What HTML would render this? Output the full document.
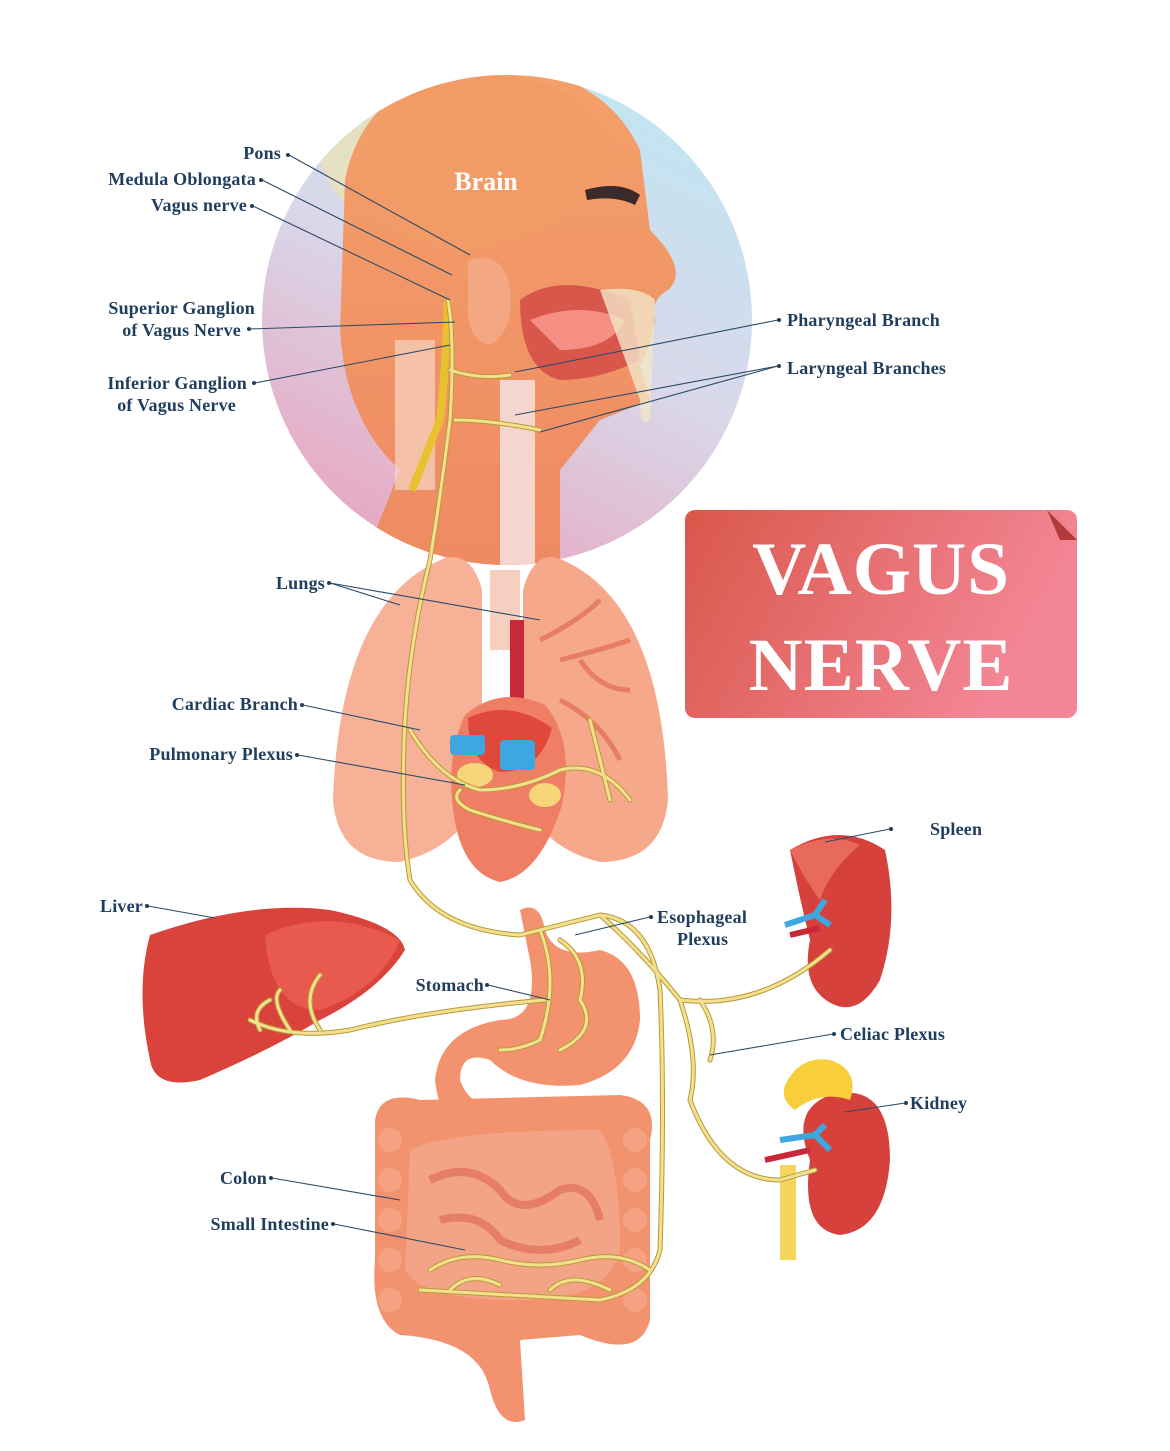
<!DOCTYPE html>
<html><head><meta charset="utf-8"><style>
html,body{margin:0;padding:0;background:#fff;}
svg{display:block}
.l{font-family:"Liberation Serif",serif;font-weight:bold;font-size:18px;letter-spacing:0.2px;fill:#1f3d5c}
.ln{stroke:#2a4a68;stroke-width:1.1;fill:none}
.nv{stroke:#b89a3a;stroke-width:5;fill:none;stroke-linecap:round;stroke-linejoin:round}
.nv2{stroke:#f3e08e;stroke-width:3;fill:none;stroke-linecap:round;stroke-linejoin:round}
</style></head><body>
<svg width="1170" height="1451" viewBox="0 0 1170 1451" xmlns="http://www.w3.org/2000/svg">
<defs>
<linearGradient id="cg" x1="0.8" y1="0" x2="0.3" y2="1">
<stop offset="0" stop-color="#bfe6f2"/><stop offset="0.5" stop-color="#d9d8ea"/><stop offset="1" stop-color="#e8a6c0"/></linearGradient>
<linearGradient id="tg" x1="0" y1="0" x2="1" y2="0.3">
<stop offset="0" stop-color="#d9574a"/><stop offset="1" stop-color="#f48797"/></linearGradient>
<linearGradient id="hg" x1="0" y1="0" x2="0" y2="1">
<stop offset="0" stop-color="#f4a06a"/><stop offset="1" stop-color="#ee8a62"/></linearGradient>
<clipPath id="cc"><circle cx="507" cy="320" r="245"/></clipPath>
</defs>
<rect width="1170" height="1451" fill="#fff"/>
<circle cx="507" cy="320" r="245" fill="url(#cg)"/>
<g clip-path="url(#cc)">
<path d="M320 60 Q420 30 520 70 L560 130 Q500 200 420 220 Q340 230 320 160Z" fill="#f6e3a0" opacity="0.55"/>
<path d="M345 180 Q365 80 480 65 Q600 65 640 150 L650 230 Q690 270 668 290 Q650 300 655 320 Q650 350 640 365 L650 400 L600 420 L560 470 L560 570 L360 570 L400 470 Q345 420 340 330 Z" fill="url(#hg)"/>
<path d="M355 180 Q370 85 480 75 Q590 75 620 160 Q560 240 470 250 Q385 250 355 180Z" fill="#f29b66"/>
<path d="M520 300 Q560 270 630 300 L640 360 Q600 380 560 380 Q520 370 520 300Z" fill="#d9574a"/>
<path d="M530 320 Q580 300 625 320 Q610 350 560 350 Z" fill="#f58f84"/>
<path d="M600 290 Q640 285 655 300 L650 420 Q640 430 640 400 Z" fill="#f2e6c8" opacity="0.8"/>
<path d="M585 190 Q620 180 640 195 L635 205 Q615 195 587 200Z" fill="#3a2a2a"/>
<path d="M468 260 Q505 250 510 290 Q515 330 490 345 Q465 340 468 300Z" fill="#f4a783"/>
<rect x="500" y="380" width="35" height="190" fill="#f5d6cf"/>
<rect x="395" y="340" width="40" height="150" fill="#f6d5c4" opacity="0.7"/>
<path d="M448 300 Q445 380 440 420 Q420 470 412 490" stroke="#e8c030" stroke-width="8" fill="none"/>
</g>
<text x="486" y="190" font-family="Liberation Serif,serif" font-weight="bold" font-size="26" fill="#fff" text-anchor="middle">Brain</text>
<rect x="685" y="510" width="392" height="208" rx="10" fill="url(#tg)"/>
<path d="M1047 510 L1077 540 L1060 540 Z" fill="#b33a3a"/>
<text x="881" y="594" font-family="Liberation Serif,serif" font-weight="bold" font-size="75" letter-spacing="1" fill="#fff" text-anchor="middle">VAGUS</text>
<text x="881" y="690" font-family="Liberation Serif,serif" font-weight="bold" font-size="75" letter-spacing="1" fill="#fff" text-anchor="middle">NERVE</text>
<!-- lungs -->
<rect x="490" y="570" width="30" height="80" fill="#f7cfc0"/>
<path d="M445 558 Q340 600 333 800 Q338 862 400 862 Q470 845 482 780 L482 590 Q472 552 445 558Z" fill="#f6b196"/>
<path d="M558 558 Q662 600 668 800 Q662 862 600 862 Q530 845 523 780 L523 590 Q533 552 558 558Z" fill="#f6a98a"/>
<path d="M540 640 Q580 620 600 600 M560 660 Q600 650 630 640 M560 700 Q600 720 620 760 M580 660 Q600 690 630 690" stroke="#e57e64" stroke-width="5" fill="none"/>
<!-- heart -->
<rect x="510" y="620" width="14" height="90" fill="#c8283a"/>
<path d="M465 715 Q500 685 545 705 Q575 740 562 805 Q540 875 500 882 Q458 872 452 800 Q448 750 465 715Z" fill="#ef7e64"/>
<path d="M468 718 Q510 698 552 728 Q540 772 500 772 Q468 762 468 718Z" fill="#e0483c"/>
<rect x="450" y="735" width="35" height="20" rx="4" fill="#3ea7e0"/>
<rect x="500" y="740" width="35" height="30" rx="4" fill="#3ea7e0"/>
<ellipse cx="475" cy="775" rx="18" ry="12" fill="#f7d67a"/>
<ellipse cx="545" cy="795" rx="16" ry="12" fill="#f7d67a"/>
<!-- liver -->
<path d="M150 935 Q250 900 330 910 Q400 925 405 950 Q380 990 320 1020 Q270 1050 200 1080 Q155 1090 150 1060 Q135 990 150 935Z" fill="#d9433c"/>
<path d="M265 935 Q330 905 400 940 Q380 990 320 1010 Q270 1010 265 935Z" fill="#e85a4d"/>
<!-- spleen -->
<path d="M790 850 Q840 820 885 850 Q900 920 880 980 Q860 1015 835 1005 Q800 990 810 940 Q800 900 790 850Z" fill="#d6423b"/>
<path d="M790 850 Q830 830 860 845 Q830 870 820 900 Q805 880 790 850Z" fill="#e86a5c"/>
<path d="M785 925 L815 915 L825 900 M815 915 L830 925" stroke="#3ea7e0" stroke-width="6" fill="none"/>
<path d="M790 935 L820 928" stroke="#c8283a" stroke-width="6"/>
<!-- kidney -->
<rect x="780" y="1165" width="16" height="95" fill="#f6d65a"/>
<path d="M830 1095 Q890 1080 890 1160 Q885 1230 840 1235 Q800 1230 810 1160 Q790 1110 830 1095Z" fill="#d6423b"/>
<path d="M785 1085 Q800 1055 830 1060 Q860 1070 850 1100 Q820 1090 795 1110 Q780 1100 785 1085Z" fill="#f8cf3b"/>
<path d="M780 1140 L815 1135 L825 1125 M815 1135 L830 1150" stroke="#3ea7e0" stroke-width="6" fill="none"/>
<path d="M765 1160 L810 1150" stroke="#c8283a" stroke-width="6"/>
<!-- stomach -->
<path d="M520 910 Q540 900 545 930 Q555 960 600 950 Q640 960 640 1020 Q635 1070 580 1085 Q520 1090 490 1060 Q460 1050 460 1080 Q470 1110 510 1110 L560 1100 Q560 1130 510 1140 Q440 1140 435 1080 Q440 1030 500 1020 Q540 1020 530 960 Z" fill="#f2926e"/>
<!-- colon & intestine -->
<path d="M375 1120 Q380 1090 420 1100 L620 1095 Q660 1100 650 1140 L650 1320 Q640 1360 580 1335 L520 1340 L525 1420 Q500 1430 490 1390 Q480 1340 400 1335 Q370 1320 375 1260 Z" fill="#f2926e"/>
<g fill="#f5a283">
<circle cx="390" cy="1140" r="12"/><circle cx="390" cy="1180" r="12"/><circle cx="390" cy="1220" r="12"/><circle cx="390" cy="1260" r="12"/><circle cx="390" cy="1300" r="12"/>
<circle cx="635" cy="1140" r="12"/><circle cx="635" cy="1180" r="12"/><circle cx="635" cy="1220" r="12"/><circle cx="635" cy="1260" r="12"/><circle cx="635" cy="1300" r="12"/>
</g>
<path d="M410 1150 Q450 1130 600 1130 Q620 1160 620 1250 Q610 1300 520 1300 Q420 1300 405 1270 Z" fill="#f4a486"/>
<path d="M430 1180 Q470 1160 500 1190 Q520 1220 560 1190 Q590 1180 600 1220 M440 1220 Q480 1210 500 1240 Q540 1260 580 1240" stroke="#e57e64" stroke-width="8" fill="none"/>
<!-- nerves -->
<path d="M448 300 Q455 340 450 420 Q440 500 430 560 Q410 640 405 720 Q400 820 410 880 Q440 930 520 935 Q560 925 600 915 Q650 920 660 990 Q665 1100 660 1250 Q650 1290 600 1300 L420 1290 M450 370 Q480 380 510 375 M455 420 Q490 420 540 430 M410 730 Q440 780 480 790 Q520 790 560 770 Q600 760 630 800 M590 720 Q600 760 610 800 M460 790 Q450 800 470 810 Q500 820 540 830 M600 915 Q640 950 680 1000 Q700 1060 690 1100 Q720 1180 780 1180 L815 1170 M680 1000 Q760 1010 830 950 M700 1000 Q720 1030 710 1060 M540 930 Q560 980 540 1040 Q520 1050 500 1050 M560 940 Q590 960 580 1000 Q600 1030 560 1050 M545 1000 Q430 1010 350 1030 Q290 1040 250 1020 M320 1030 Q300 1000 320 975 M290 1030 Q270 1000 280 990 M260 1030 Q250 1010 270 1000 M430 1270 Q460 1250 500 1260 Q540 1270 580 1260 Q620 1250 650 1270 M450 1290 Q470 1270 500 1285 M550 1290 Q570 1270 610 1290" class="nv"/>
<path d="M448 300 Q455 340 450 420 Q440 500 430 560 Q410 640 405 720 Q400 820 410 880 Q440 930 520 935 Q560 925 600 915 Q650 920 660 990 Q665 1100 660 1250 Q650 1290 600 1300 L420 1290 M450 370 Q480 380 510 375 M455 420 Q490 420 540 430 M410 730 Q440 780 480 790 Q520 790 560 770 Q600 760 630 800 M590 720 Q600 760 610 800 M460 790 Q450 800 470 810 Q500 820 540 830 M600 915 Q640 950 680 1000 Q700 1060 690 1100 Q720 1180 780 1180 L815 1170 M680 1000 Q760 1010 830 950 M700 1000 Q720 1030 710 1060 M540 930 Q560 980 540 1040 Q520 1050 500 1050 M560 940 Q590 960 580 1000 Q600 1030 560 1050 M545 1000 Q430 1010 350 1030 Q290 1040 250 1020 M320 1030 Q300 1000 320 975 M290 1030 Q270 1000 280 990 M260 1030 Q250 1010 270 1000 M430 1270 Q460 1250 500 1260 Q540 1270 580 1260 Q620 1250 650 1270 M450 1290 Q470 1270 500 1285 M550 1290 Q570 1270 610 1290" class="nv2"/>
<g class="ln">
<path d="M289 155 L470 255"/><path d="M262 180 L452 275"/><path d="M253 206 L450 300"/>
<path d="M250 329 L455 322"/><path d="M255 383 L450 345"/>
<path d="M778 320 L515 372"/><path d="M778 366 L515 415"/><path d="M778 366 L540 432"/>
<path d="M330 583 L400 605"/><path d="M330 583 L540 620"/>
<path d="M303 705 L420 730"/><path d="M298 755 L465 785"/>
<path d="M890 829 L825 842"/><path d="M148 906 L215 918"/>
<path d="M650 917 L575 935"/><path d="M488 985 L550 1000"/>
<path d="M833 1034 L710 1055"/><path d="M905 1103 L845 1112"/>
<path d="M272 1178 L400 1200"/><path d="M334 1224 L465 1250"/>
</g>
<g class="l">
<text x="281" y="159" text-anchor="end">Pons</text>
<text x="256" y="185" text-anchor="end">Medula Oblongata</text>
<text x="247" y="211" text-anchor="end">Vagus nerve</text>
<text x="255" y="314" text-anchor="end">Superior Ganglion</text>
<text x="241" y="336" text-anchor="end">of Vagus Nerve</text>
<text x="247" y="389" text-anchor="end">Inferior Ganglion</text>
<text x="236" y="411" text-anchor="end">of Vagus Nerve</text>
<text x="787" y="326">Pharyngeal Branch</text>
<text x="787" y="374">Laryngeal Branches</text>
<text x="325" y="589" text-anchor="end">Lungs</text>
<text x="298" y="710" text-anchor="end">Cardiac Branch</text>
<text x="293" y="760" text-anchor="end">Pulmonary Plexus</text>
<text x="930" y="835">Spleen</text>
<text x="143" y="912" text-anchor="end">Liver</text>
<text x="657" y="923">Esophageal</text>
<text x="677" y="945">Plexus</text>
<text x="484" y="991" text-anchor="end">Stomach</text>
<text x="840" y="1040">Celiac Plexus</text>
<text x="910" y="1109">Kidney</text>
<text x="267" y="1184" text-anchor="end">Colon</text>
<text x="329" y="1230" text-anchor="end">Small Intestine</text>
</g>
<g fill="#1f3d5c">
<circle cx="288" cy="155" r="2"/><circle cx="261" cy="180" r="2"/><circle cx="252" cy="206" r="2"/>
<circle cx="249" cy="329" r="2"/><circle cx="254" cy="383" r="2"/><circle cx="779" cy="320" r="2"/>
<circle cx="779" cy="366" r="2"/><circle cx="329" cy="583" r="2"/><circle cx="302" cy="705" r="2"/>
<circle cx="297" cy="755" r="2"/><circle cx="891" cy="829" r="2"/><circle cx="147" cy="906" r="2"/>
<circle cx="651" cy="917" r="2"/><circle cx="487" cy="985" r="2"/><circle cx="834" cy="1034" r="2"/>
<circle cx="906" cy="1103" r="2"/><circle cx="271" cy="1178" r="2"/><circle cx="333" cy="1224" r="2"/>
</g>
</svg>
</body></html>
